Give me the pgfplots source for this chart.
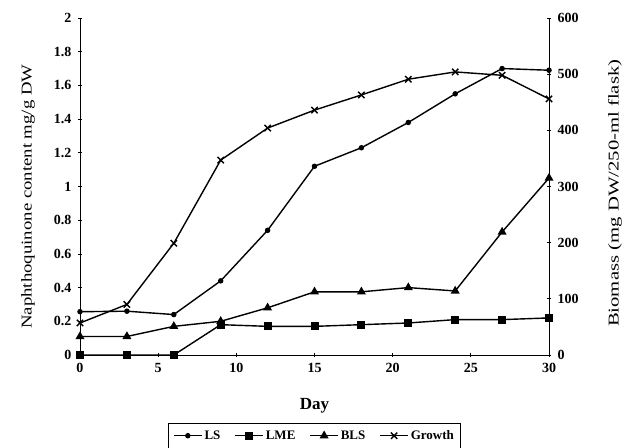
\documentclass[border=0pt]{standalone}
\usepackage{pgfplots}
\pgfplotsset{compat=1.18}
\usepackage{fontspec}
\setmainfont{Liberation Serif}
\begin{document}
\begin{tikzpicture}
\useasboundingbox (-80pt,-92pt) rectangle (548pt,355pt);
\pgfplotsset{
  common/.style={
    scale only axis, width=469pt, height=337pt,
    at={(0,0)}, anchor=south west,
    xmin=0, xmax=30, xtick={0,5,...,30},
    tick align=outside, major tick length=4pt,
    tick style={black, line width=0.8pt},
    axis line style={line width=0.9pt},
    ticklabel style={font=\fontsize{14}{14}\selectfont\bfseries},
    /pgf/number format/assume math mode=true,
    clip=false,
  },
  ser/.style={black, line width=1.4pt},
}
\begin{axis}[common,
  axis x line=bottom, axis y line=left,
  x axis line style={-}, y axis line style={-},
  ymin=0, ymax=2, ytick={0,0.2,...,2.01},
  yticklabel style={/pgf/number format/fixed, xshift=-3pt},
  xticklabel style={yshift=-3pt},
  xlabel={\textbf{Day}},
  xlabel style={font=\fontsize{17}{17}\selectfont, at={([yshift=-51pt]axis description cs:0.5,0)}, anchor=center},
  ylabel={\scalebox{1.25}[1]{Naphthoquinone content mg/g DW}},
  ylabel style={font=\fontsize{15}{15}\selectfont, at={([xshift=-52pt]axis description cs:0,0.47)}, anchor=center},
  legend columns=4,
  legend style={at={([yshift=-68pt]axis description cs:0.5,0)}, anchor=north, draw=black, line width=0.9pt,
    font=\fontsize{13}{13}\selectfont\bfseries, inner xsep=5pt, inner ysep=5pt,
    /tikz/every even column/.append style={column sep=12pt}},
  legend image code/.code={\draw[mark repeat=2,mark phase=2,#1] plot coordinates {(0pt,0pt) (14pt,0pt) (28pt,0pt)};},
  legend cell align=left,
]
\addplot[ser, mark=*, mark size=2pt] coordinates {
(0,0.257) (3,0.26) (6,0.24) (9,0.44) (12,0.74) (15,1.12) (18,1.23) (21,1.38) (24,1.55) (27,1.70) (30,1.69)};
\addlegendentry{LS}
\addplot[ser, mark=square*, mark size=3.3pt] coordinates {
(0,0) (3,0) (6,0) (9,0.18) (12,0.17) (15,0.17) (18,0.18) (21,0.19) (24,0.21) (27,0.21) (30,0.22)};
\addlegendentry{LME}
\addplot[ser, mark=triangle*, mark size=3.8pt] coordinates {
(0,0.11) (3,0.11) (6,0.17) (9,0.20) (12,0.28) (15,0.375) (18,0.375) (21,0.40) (24,0.38) (27,0.73) (30,1.05)};
\addlegendentry{BLS}
\addlegendimage{ser, mark=x, mark size=4.5pt}
\addlegendentry{Growth}
\end{axis}
\begin{axis}[common,
  axis x line=none, axis y line=right, y axis line style={-},
  ymin=0, ymax=600, ytick={0,100,...,600},
  yticklabel style={xshift=3pt},
  ylabel={\scalebox{1.38}[1]{Biomass (mg DW/250-ml flask)}},
  ylabel style={font=\fontsize{15}{15}\selectfont, at={([xshift=66pt]axis description cs:1,0.48)}, anchor=center},
]
\addplot[ser, mark=x, mark size=4.5pt] coordinates {
(0,57) (3,90) (6,199) (9,347) (12,404) (15,436) (18,463) (21,491) (24,504) (27,498) (30,456)};
\end{axis}
\end{tikzpicture}
\end{document}
